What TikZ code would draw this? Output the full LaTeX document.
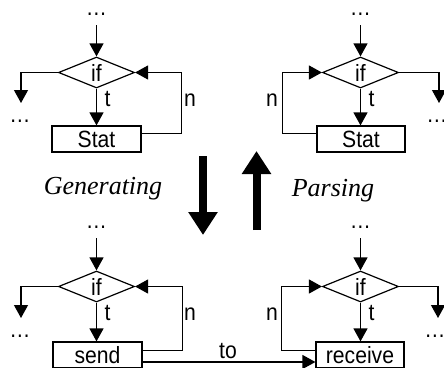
\documentclass[tikz,border=0pt]{standalone}
\usepackage{fontspec}
\setmainfont{Liberation Sans}[FakeStretch=0.9]
\newfontfamily\serifit{Liberation Serif}
\usetikzlibrary{arrows.meta,shapes.geometric,calc}

\begin{document}
\begin{tikzpicture}[x=1pt,y=-1pt,line width=1.2pt,
  txt/.style={font=\fontsize{23.5}{23.5}\selectfont,inner sep=0pt},
  dots/.style={txt,anchor=base,text height=3pt,text depth=0pt},
  cond/.style={draw,diamond,txt,minimum width=76pt,minimum height=31pt,aspect=2.4},
  stmt/.style={draw,rectangle,txt,minimum width=89pt,minimum height=26pt,text height=17pt,text depth=0pt},
  flow/.style={-{Triangle[width=14pt,length=13pt]}},
  big/.style={line width=8pt,-{Triangle[width=28pt,length=23pt]}},
  title/.style={font=\serifit\itshape\fontsize{26}{26}\selectfont,inner sep=0pt,anchor=base}]
\useasboundingbox (0,0) rectangle (444,367);

% ---------- top left: if-statement with loop ----------
\node[dots] (tlin) at (96.5,15) {…};
\coordinate (tls) at (96.5,25);
\node[cond] (tld) at (96.5,72.5) {if};
\node[stmt] (tlb) at (96.5,139) {Stat};
\coordinate (tle) at (21,103);
\node[dots] (tlout) at (20,122) {…};
\draw[flow] (tls) -- (tld.north);
\draw[flow] (tld.south) -- (tlb.north);
\draw[flow] (tld.west) -| (tle);
\draw[flow] ($(tlb.north east)+(0,8)$) -- ++(40,0) |- (tld.east);
\node[txt,anchor=base] (tlt) at (107.5,106) {t};
\node[txt,anchor=base] (tln) at (190,106) {n};

% ---------- top right ----------
\node[dots] (trin) at (360.5,15) {…};
\coordinate (trs) at (360.5,25);
\node[cond] (trd) at (360.5,72.5) {if};
\node[stmt,minimum width=88pt] (trb) at (361,139) {Stat};
\coordinate (tre) at (439,103);
\node[dots] (trout) at (437,122) {…};
\draw[flow] (trs) -- (trd.north);
\draw[flow] (trd.south) -- (trd.south |- trb.north);
\draw[flow] (trd.east) -| (tre);
\draw[flow] ($(trb.north west)+(0,8)$) -- ++(-34,0) |- (trd.west);
\node[txt,anchor=base] (trt) at (371.5,106) {t};
\node[txt,anchor=base] (trn) at (272,106) {n};

% ---------- direction arrows and captions ----------
\coordinate (gs) at (203,156);
\coordinate (ge) at (203,235);
\coordinate (ps) at (256.5,230);
\coordinate (pe) at (256.5,151);
\draw[big] (gs) -- (ge);
\draw[big] (ps) -- (pe);
\node[title] (gen) at (103,194) {Generating};
\node[title] (par) at (333,196) {Parsing};

% ---------- bottom left ----------
\node[dots] (blin) at (96.5,228) {…};
\coordinate (bls) at (96.5,238);
\node[cond] (bld) at (96.5,286.5) {if};
\node[stmt] (blb) at (97.5,355) {send};
\coordinate (ble) at (21,318);
\node[dots] (blout) at (20,337) {…};
\draw[flow] (bls) -- (bld.north);
\draw[flow] (bld.south) -- (bld.south |- blb.north);
\draw[flow] (bld.west) -| (ble);
\draw[flow] ($(blb.north east)+(0,9)$) -- ++(39.5,0) |- (bld.east);
\node[txt,anchor=base] (blt) at (107.5,320) {t};
\node[txt,anchor=base] (bln) at (190,320) {n};

% ---------- bottom right ----------
\node[dots] (brin) at (360.5,228) {…};
\coordinate (brs) at (360.5,238);
\node[cond] (brd) at (360.5,286.5) {if};
\node[stmt,minimum width=88pt] (brb) at (360,355) {receive};
\coordinate (bre) at (438,318);
\node[dots] (brout) at (435,337) {…};
\draw[flow] (brs) -- (brd.north);
\draw[flow] (brd.south) -- (brd.south |- brb.north);
\draw[flow] (brd.east) -| (bre);
\draw[flow] ($(brb.north west)+(0,9)$) -- ++(-34,0) |- (brd.west);
\node[txt,anchor=base] (brt) at (371.5,320) {t};
\node[txt,anchor=base] (brn) at (272,320) {n};

% ---------- message from send to receive ----------
\draw[flow] (blb.east |- 0,362) -- (brb.west |- 0,362);
\node[txt] (to) at (228,351) {to};
\end{tikzpicture}
\end{document}
